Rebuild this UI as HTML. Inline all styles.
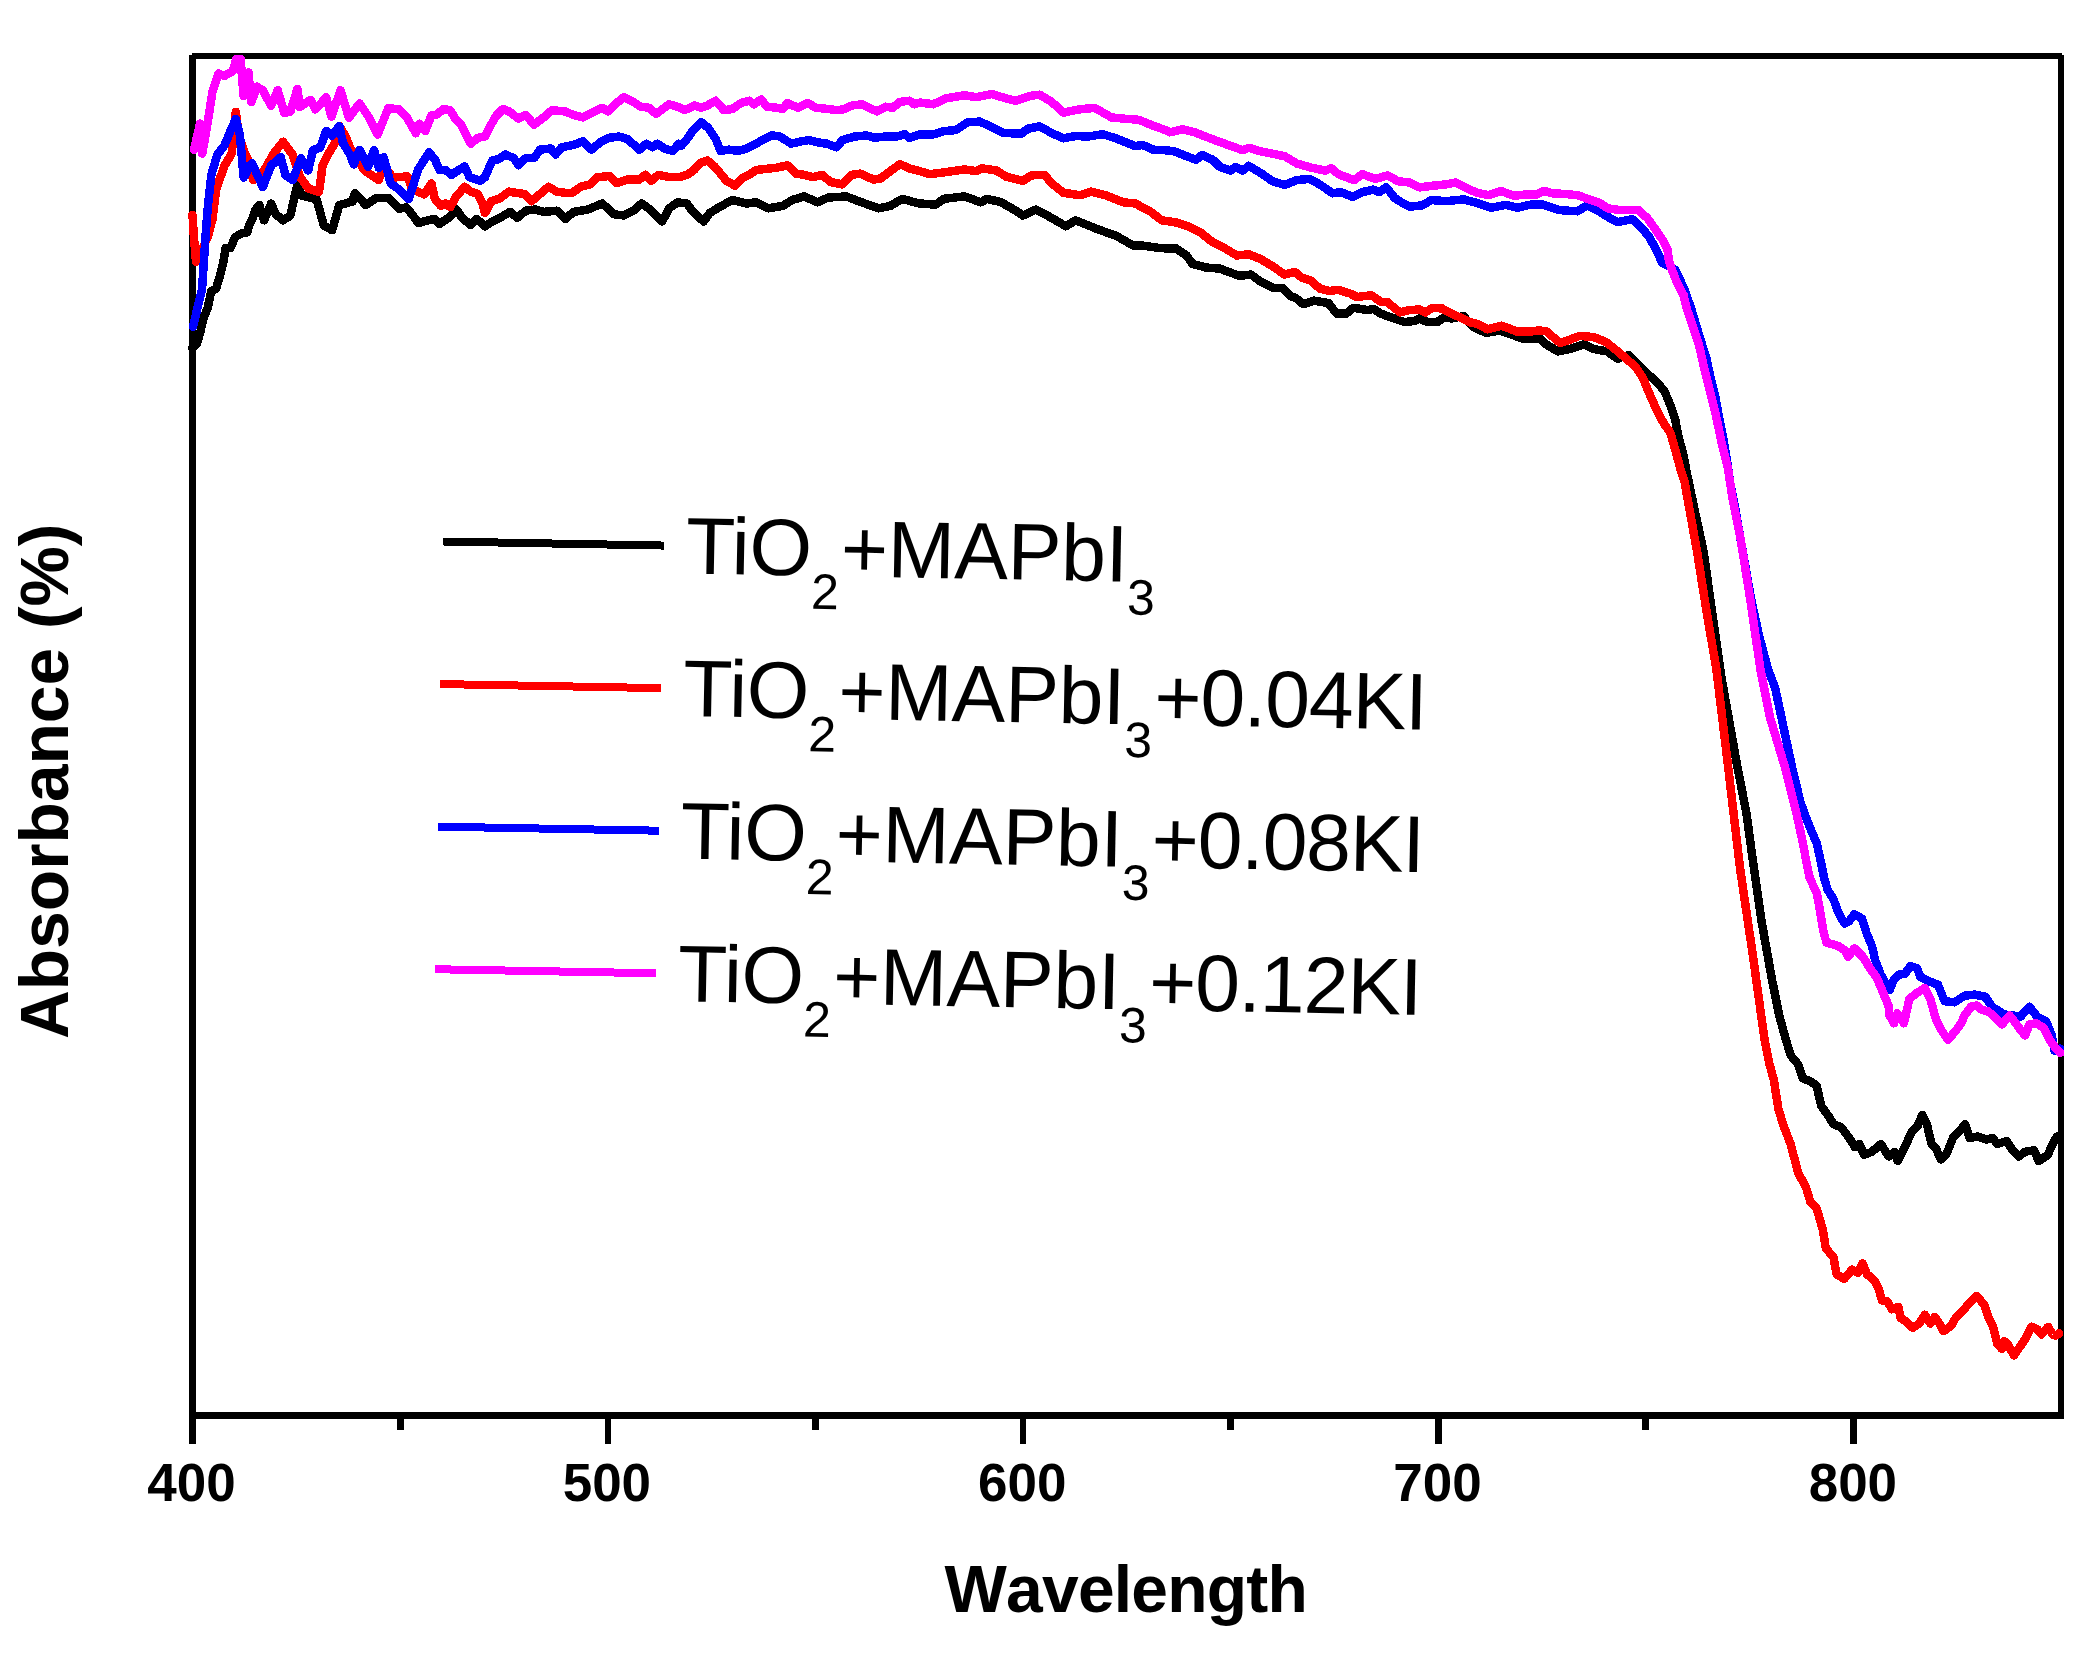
<!DOCTYPE html>
<html><head><meta charset="utf-8"><title>Absorbance spectra</title>
<style>
html,body{margin:0;padding:0;background:#fff;}
svg{display:block;}
.tick{font-family:"Liberation Sans",Arial,sans-serif;font-weight:bold;font-size:53px;text-anchor:middle;fill:#000;}
.xl{font-family:"Liberation Sans",Arial,sans-serif;font-weight:bold;font-size:66px;text-anchor:middle;font-kerning:none;letter-spacing:-0.8px;fill:#000;}
.yl{font-family:"Liberation Sans",Arial,sans-serif;font-weight:bold;font-size:67.7px;text-anchor:middle;fill:#000;}
.lg{font-family:"Liberation Sans",Arial,sans-serif;font-size:80.5px;letter-spacing:-0.3px;fill:#000;}
.sub{font-size:50px;letter-spacing:1.5px;}
.suf{letter-spacing:-1.1px;}
</style></head><body>
<svg width="2096" height="1672" viewBox="0 0 2096 1672">
<rect width="2096" height="1672" fill="#fff"/>
<g fill="#000" shape-rendering="crispEdges">
<rect x="189" y="55" width="7" height="1389"/>
<rect x="192" y="53" width="1870" height="6"/>
<rect x="2058" y="55" width="6" height="1364"/>
<rect x="189" y="1412" width="1875" height="7"/>
<rect x="605" y="1419" width="6" height="25"/>
<rect x="1020" y="1419" width="6" height="25"/>
<rect x="1435" y="1419" width="7" height="25"/>
<rect x="1850" y="1419" width="7" height="25"/>
<rect x="397" y="1419" width="7" height="11"/>
<rect x="812" y="1419" width="7" height="11"/>
<rect x="1227" y="1419" width="7" height="11"/>
<rect x="1642" y="1419" width="7" height="11"/>
</g>
<text x="191.5" y="1501" class="tick">400</text>
<text x="606.9" y="1501" class="tick">500</text>
<text x="1022.2" y="1501" class="tick">600</text>
<text x="1437.5" y="1501" class="tick">700</text>
<text x="1852.9" y="1501" class="tick">800</text>
<text x="1125.8" y="1611.5" class="xl">Wavelength</text>
<text transform="translate(68,781.4) rotate(-90)" class="yl">Absorbance (%)</text>
<path d="M192.2,348.0 L197.0,343.5 L200.5,331.6 L203.0,319.6 L207.7,307.7 L211.3,290.9 L216.1,288.5 L219.7,276.6 L223.3,262.2 L225.7,247.8 L230.5,247.8 L235.2,237.1 L241.2,233.5 L247.2,232.3 L249.6,223.9 L253.2,216.7 L255.6,209.6 L259.2,204.8 L264.0,220.3 L271.1,203.6 L275.9,214.4 L283.1,220.3 L290.3,215.6 L296.2,189.5 L298.6,182.3 L301.0,195.5 L316.6,199.1 L323.8,225.4 L332.1,230.2 L339.3,205.1 L352.5,201.5 L354.9,193.1 L359.6,197.9 L365.6,205.1 L376.4,197.9 L388.3,197.9 L399.1,208.7 L406.3,207.5 L412.3,214.6 L418.3,223.0 L431.4,219.4 L434.8,219.1 L439.6,223.9 L446.7,219.1 L451.5,215.5 L456.3,209.5 L462.3,217.9 L470.7,225.1 L476.7,219.1 L485.0,226.3 L492.2,221.5 L501.8,216.7 L510.1,211.9 L517.3,217.9 L525.7,210.7 L535.3,209.5 L543.6,211.9 L556.8,210.7 L565.2,219.1 L573.5,211.9 L587.9,209.5 L602.2,203.5 L614.2,214.3 L623.8,215.5 L633.3,210.7 L641.7,203.5 L650.1,209.5 L662.1,221.5 L669.2,208.3 L677.6,202.3 L687.0,203.5 L692.9,211.9 L703.7,221.5 L709.7,213.1 L719.3,207.1 L732.4,200.0 L746.8,203.5 L756.3,202.3 L768.3,208.3 L782.7,205.9 L792.2,200.0 L804.2,196.4 L817.3,202.3 L828.1,197.6 L846.1,196.4 L861.6,202.3 L878.3,208.3 L890.3,205.9 L902.3,198.8 L914.2,202.3 L920.0,203.5 L935.6,204.7 L943.9,198.8 L964.3,196.4 L981.0,202.3 L987.0,198.8 L1001.3,202.3 L1015.7,210.7 L1022.9,215.5 L1036.0,209.5 L1051.6,217.9 L1065.9,226.3 L1075.5,220.3 L1087.5,225.1 L1099.4,229.9 L1116.2,235.8 L1132.9,245.4 L1141.3,245.4 L1158.0,247.8 L1165.0,248.3 L1175.8,248.3 L1186.5,255.5 L1192.5,263.9 L1205.7,267.5 L1220.0,268.7 L1239.2,275.8 L1251.1,274.6 L1260.7,281.8 L1272.7,287.8 L1282.2,287.8 L1290.0,295.8 L1296.0,298.2 L1303.2,304.2 L1313.9,300.6 L1328.3,303.0 L1336.7,313.7 L1346.2,313.7 L1353.4,307.8 L1367.8,310.1 L1373.7,308.9 L1380.9,313.7 L1394.1,318.5 L1404.8,322.1 L1414.4,320.9 L1419.2,318.5 L1427.6,322.1 L1437.1,322.1 L1444.3,317.3 L1451.5,318.5 L1463.4,316.1 L1473.0,326.9 L1486.2,332.9 L1499.3,330.5 L1513.7,335.3 L1523.3,338.9 L1532.8,338.9 L1540.0,338.3 L1546.0,344.3 L1557.9,351.4 L1569.9,349.0 L1584.3,344.3 L1593.8,349.0 L1607.0,351.4 L1617.8,358.6 L1628.5,355.0 L1645.3,371.8 L1656.0,381.3 L1664.4,390.9 L1670.4,405.3 L1675.2,419.6 L1678.8,437.6 L1683.5,455.5 L1686.8,473.0 L1692.5,500.0 L1703.6,551.8 L1721.0,675.0 L1737.2,765.7 L1746.5,813.5 L1753.6,866.0 L1761.3,919.8 L1772.0,979.6 L1779.2,1015.5 L1786.0,1040.0 L1790.6,1055.3 L1798.3,1064.5 L1802.9,1078.3 L1810.5,1081.3 L1816.7,1085.9 L1821.2,1105.8 L1828.9,1116.6 L1833.5,1124.2 L1841.2,1127.3 L1850.3,1139.5 L1854.9,1147.2 L1859.5,1144.1 L1864.1,1154.8 L1871.8,1151.8 L1881.0,1144.1 L1888.6,1156.4 L1894.7,1151.8 L1897.8,1161.0 L1905.5,1145.6 L1911.6,1131.9 L1917.7,1125.7 L1922.3,1115.0 L1926.9,1124.2 L1931.5,1144.1 L1936.1,1148.7 L1940.7,1159.4 L1946.8,1153.3 L1952.9,1138.0 L1959.0,1131.9 L1965.2,1124.2 L1969.8,1138.0 L1977.4,1136.5 L1986.6,1139.5 L1992.7,1138.0 L1997.3,1144.1 L2006.5,1141.0 L2012.6,1150.2 L2018.8,1156.4 L2024.9,1151.8 L2034.1,1150.2 L2038.7,1161.0 L2047.9,1154.8 L2052.5,1144.1 L2057.0,1136.5" fill="none" stroke="#000" stroke-width="8.5" stroke-linejoin="round" stroke-linecap="round" shape-rendering="crispEdges"/>
<path d="M192.5,215.0 L194.0,238.0 L196.0,262.0 L202.0,250.0 L208.0,236.0 L212.5,219.4 L216.1,189.5 L224.5,165.6 L231.7,153.6 L235.8,111.8 L238.8,135.7 L244.8,153.6 L248.4,159.6 L253.2,180.0 L262.8,171.6 L266.3,166.8 L273.5,153.6 L283.1,141.7 L292.7,154.8 L299.8,176.4 L308.2,188.3 L319.0,191.9 L322.6,165.6 L328.5,153.6 L335.7,141.7 L339.3,126.1 L345.3,135.7 L350.1,147.7 L364.4,170.4 L378.8,180.0 L383.6,165.6 L393.1,177.6 L407.5,176.4 L412.3,189.5 L424.2,194.3 L431.4,183.5 L434.8,198.8 L440.8,205.9 L445.6,203.5 L450.3,207.1 L456.3,196.4 L464.7,186.8 L470.7,191.6 L477.8,194.0 L482.6,203.5 L485.0,213.1 L491.0,201.1 L499.4,198.8 L508.9,191.6 L516.1,192.8 L524.5,194.0 L531.7,201.1 L540.0,194.0 L548.4,186.8 L556.8,191.6 L565.2,192.8 L572.3,192.8 L580.7,186.8 L590.3,184.4 L597.5,177.2 L609.4,176.0 L616.6,183.2 L627.4,179.6 L639.3,179.6 L645.3,174.8 L651.3,180.8 L658.5,174.8 L669.2,177.2 L678.8,177.2 L687.0,174.8 L694.1,170.0 L700.1,162.9 L707.3,160.5 L714.5,166.5 L720.5,173.6 L726.4,180.8 L734.8,185.6 L742.0,178.4 L749.2,174.8 L756.3,170.0 L765.9,168.9 L776.7,167.7 L787.4,165.3 L795.8,173.6 L804.2,174.8 L812.6,177.2 L822.1,174.8 L830.5,182.0 L842.5,184.4 L852.0,174.8 L860.4,173.6 L873.6,179.6 L880.7,178.4 L890.3,171.2 L899.9,164.1 L910.6,168.9 L920.0,171.2 L929.6,174.2 L943.9,172.4 L964.3,169.4 L976.2,171.2 L982.2,168.3 L996.6,170.6 L1006.1,176.6 L1022.9,180.8 L1031.2,175.4 L1044.4,174.8 L1051.6,183.2 L1063.5,192.8 L1080.3,195.2 L1091.1,191.6 L1105.4,195.2 L1123.3,202.3 L1135.3,203.5 L1150.9,211.9 L1161.6,220.3 L1165.0,220.8 L1177.0,222.6 L1188.9,226.8 L1200.9,232.8 L1212.8,242.3 L1224.8,248.3 L1236.8,255.5 L1248.7,254.3 L1260.7,259.1 L1272.7,266.3 L1284.6,274.6 L1294.8,271.9 L1302.0,277.8 L1310.3,280.2 L1319.9,288.6 L1329.5,291.0 L1337.8,289.8 L1349.8,293.4 L1357.0,297.0 L1371.3,295.2 L1380.9,301.8 L1386.9,301.8 L1400.0,312.5 L1409.6,310.1 L1419.2,309.5 L1425.2,312.5 L1432.3,307.8 L1441.9,308.4 L1451.5,313.7 L1459.9,317.3 L1469.4,322.1 L1479.0,324.5 L1487.4,329.3 L1501.7,325.7 L1511.3,329.3 L1517.3,331.7 L1529.2,331.7 L1538.8,330.5 L1546.0,331.1 L1560.3,343.1 L1573.5,338.3 L1579.5,335.9 L1593.8,337.1 L1605.8,341.9 L1617.8,351.4 L1626.1,358.6 L1635.7,367.0 L1642.9,377.8 L1647.7,389.7 L1652.4,400.5 L1658.4,413.6 L1664.4,424.4 L1670.4,432.8 L1675.2,449.5 L1680.0,467.5 L1684.6,482.0 L1697.1,551.8 L1706.6,611.6 L1716.5,670.0 L1728.0,765.7 L1740.0,868.0 L1752.9,955.7 L1764.6,1040.0 L1769.2,1063.0 L1773.8,1079.8 L1778.4,1108.9 L1783.0,1124.2 L1790.6,1144.1 L1798.3,1173.2 L1805.9,1187.0 L1810.5,1202.3 L1816.7,1208.4 L1822.8,1229.9 L1825.8,1248.2 L1833.5,1257.4 L1836.6,1274.3 L1844.2,1278.9 L1851.9,1269.7 L1858.0,1272.7 L1862.4,1263.3 L1867.0,1274.2 L1875.0,1281.0 L1879.0,1290.0 L1881.9,1300.4 L1887.4,1301.5 L1891.8,1309.2 L1898.4,1307.0 L1900.6,1318.0 L1907.2,1322.4 L1912.7,1327.9 L1919.3,1323.5 L1924.8,1314.7 L1930.3,1323.5 L1934.7,1316.9 L1940.2,1324.6 L1943.5,1331.2 L1951.2,1325.7 L1955.6,1318.0 L1962.2,1311.4 L1968.9,1303.7 L1976.6,1296.0 L1984.3,1304.8 L1988.7,1318.0 L1993.1,1326.8 L1997.5,1344.4 L2001.9,1348.9 L2004.1,1341.1 L2008.5,1345.5 L2014.0,1355.5 L2018.4,1348.9 L2023.9,1341.1 L2028.3,1333.4 L2031.6,1326.8 L2037.1,1329.0 L2041.5,1334.5 L2048.1,1326.8 L2052.5,1334.5 L2055.8,1335.6 L2059.1,1333.4" fill="none" stroke="#ff0000" stroke-width="8.5" stroke-linejoin="round" stroke-linecap="round" shape-rendering="crispEdges"/>
<path d="M193.0,327.0 L197.0,310.0 L202.0,290.0 L204.0,260.0 L206.0,230.0 L208.0,205.0 L211.3,175.0 L217.3,154.8 L224.5,145.3 L230.5,130.9 L235.8,119.0 L240.0,135.7 L243.6,177.6 L252.0,163.2 L262.8,187.1 L271.1,165.6 L280.7,157.2 L285.5,175.2 L292.7,180.0 L301.0,158.4 L308.2,170.4 L313.0,150.0 L320.2,147.7 L326.1,130.9 L332.1,135.7 L339.3,126.1 L342.9,142.9 L350.1,154.8 L353.7,164.4 L359.6,150.0 L368.0,166.8 L374.0,150.0 L378.8,167.9 L383.6,157.2 L390.7,183.5 L399.1,189.5 L408.7,199.1 L418.3,169.2 L429.0,152.4 L434.8,159.3 L439.6,170.0 L445.6,170.0 L451.5,174.8 L458.7,170.0 L464.7,166.5 L469.5,177.2 L480.2,180.8 L485.0,177.2 L492.2,160.5 L498.2,159.3 L505.4,154.5 L513.7,158.1 L518.5,165.3 L525.7,158.1 L534.1,158.1 L540.0,149.7 L550.8,148.5 L555.6,154.5 L561.6,147.3 L573.5,144.9 L583.1,141.3 L591.5,149.7 L599.9,142.5 L609.4,137.8 L619.0,136.6 L627.4,138.9 L639.3,149.7 L646.5,143.7 L652.5,147.3 L657.3,143.7 L664.4,148.5 L672.8,150.9 L678.8,143.7 L681.0,146.1 L687.0,139.0 L692.9,130.6 L701.3,122.2 L708.5,128.2 L715.7,139.0 L720.5,150.9 L728.8,149.7 L738.4,150.9 L746.8,148.5 L754.0,144.9 L762.3,140.1 L771.9,135.4 L780.3,136.6 L791.0,143.7 L801.8,141.3 L809.0,140.1 L818.5,142.5 L826.9,143.7 L836.5,147.3 L842.5,140.1 L854.4,136.6 L866.4,135.4 L874.8,137.8 L884.3,136.6 L896.3,136.6 L904.7,134.2 L909.4,137.8 L920.0,134.2 L932.0,134.8 L943.9,131.2 L955.9,130.0 L967.8,122.2 L979.8,121.6 L991.8,127.0 L1003.7,133.0 L1021.7,133.6 L1027.7,128.8 L1039.6,126.4 L1051.6,133.0 L1063.5,138.3 L1075.5,136.0 L1087.5,136.6 L1103.0,134.2 L1117.4,138.9 L1135.3,146.1 L1142.5,144.9 L1153.3,149.7 L1165.0,150.2 L1174.6,151.4 L1186.5,156.2 L1196.1,159.8 L1202.1,155.0 L1212.8,159.8 L1220.0,167.0 L1230.8,170.6 L1235.6,167.0 L1242.8,170.6 L1248.7,165.8 L1260.7,173.0 L1272.7,181.3 L1284.6,184.9 L1296.6,180.1 L1309.7,178.9 L1320.5,184.9 L1332.5,193.3 L1340.8,192.1 L1352.8,196.9 L1362.4,192.1 L1373.1,189.7 L1379.1,192.1 L1386.3,187.3 L1394.7,198.0 L1404.2,204.1 L1410.0,206.6 L1422.0,205.4 L1431.5,200.0 L1445.9,201.2 L1463.8,199.4 L1477.0,203.0 L1491.3,207.8 L1505.7,204.8 L1517.7,207.8 L1529.6,204.8 L1541.6,204.2 L1559.5,210.1 L1577.5,211.3 L1587.0,205.4 L1599.0,211.3 L1607.7,216.8 L1617.6,222.1 L1632.2,219.1 L1641.3,227.5 L1649.0,236.7 L1656.7,250.4 L1662.0,262.7 L1675.1,269.6 L1684.2,288.7 L1690.9,307.8 L1696.6,327.0 L1700.6,340.0 L1706.6,359.1 L1710.6,378.3 L1715.4,397.4 L1719.2,418.0 L1723.5,439.1 L1726.6,458.3 L1728.8,472.6 L1730.5,485.0 L1734.4,503.9 L1751.2,599.6 L1759.0,635.5 L1768.3,670.0 L1775.2,688.0 L1781.5,717.8 L1791.7,765.7 L1800.3,801.6 L1804.5,813.5 L1811.6,831.5 L1816.8,843.4 L1821.5,865.0 L1824.1,877.9 L1827.7,889.9 L1833.6,899.5 L1838.4,912.6 L1844.4,923.4 L1849.2,921.0 L1854.4,914.3 L1862.1,918.7 L1866.5,933.0 L1872.0,946.2 L1875.3,960.5 L1880.8,974.8 L1889.6,990.2 L1894.0,979.2 L1898.4,974.8 L1905.0,973.7 L1910.5,966.0 L1917.1,968.2 L1920.4,977.0 L1929.2,981.4 L1938.0,984.7 L1944.6,1001.2 L1954.5,1002.3 L1964.5,995.7 L1974.4,994.6 L1985.4,996.8 L1992.0,1006.7 L2004.1,1014.4 L2020.6,1016.6 L2029.4,1006.7 L2037.1,1016.6 L2045.9,1021.0 L2051.4,1034.3 L2054.7,1050.8 L2060.2,1048.6" fill="none" stroke="#0000ff" stroke-width="8.5" stroke-linejoin="round" stroke-linecap="round" shape-rendering="crispEdges"/>
<path d="M194.0,150.0 L200.0,123.7 L202.3,153.6 L207.7,122.5 L212.5,91.4 L218.5,73.5 L224.5,75.9 L232.8,71.1 L236.4,59.0 L240.6,59.1 L243.6,96.2 L248.4,72.3 L251.4,102.2 L256.8,86.7 L262.8,90.2 L271.1,105.8 L277.7,90.2 L284.3,113.0 L290.3,111.8 L297.4,89.0 L299.8,107.0 L310.6,99.8 L315.4,109.4 L326.1,97.4 L331.5,116.6 L340.5,90.2 L348.9,117.8 L359.6,103.4 L369.2,117.8 L377.6,134.5 L388.3,108.2 L399.1,109.4 L406.3,116.6 L415.9,133.3 L419.4,123.7 L425.4,130.9 L431.4,115.4 L436.0,115.0 L443.8,109.0 L450.3,110.2 L455.1,118.6 L461.1,124.6 L465.9,134.2 L470.7,143.7 L477.8,137.8 L485.0,136.6 L489.8,127.0 L495.8,116.2 L503.0,109.0 L509.0,111.4 L518.5,118.6 L525.7,115.0 L534.1,124.6 L543.6,117.4 L552.0,110.2 L565.2,111.4 L573.5,115.0 L583.1,117.4 L595.1,111.4 L602.2,107.8 L608.2,111.4 L616.6,103.1 L623.8,97.1 L633.3,101.9 L640.5,106.7 L648.9,107.8 L656.1,113.8 L669.2,104.3 L677.6,106.7 L684.6,110.2 L694.1,105.5 L701.3,107.8 L707.3,105.5 L715.7,100.7 L724.0,110.2 L732.4,109.0 L740.8,103.1 L749.2,100.7 L754.0,104.3 L761.1,99.5 L767.1,106.7 L776.7,107.8 L782.7,109.0 L787.4,103.1 L798.2,107.8 L807.8,103.1 L816.1,107.8 L828.1,109.0 L837.7,110.2 L844.9,109.0 L852.0,105.5 L861.6,104.3 L868.8,107.8 L877.2,111.4 L885.5,106.7 L892.7,107.8 L899.9,101.9 L909.4,100.7 L914.2,104.3 L920.0,102.5 L933.2,104.3 L946.3,98.3 L964.3,95.3 L976.2,97.1 L991.8,94.1 L1003.7,97.7 L1015.7,100.7 L1030.0,95.9 L1039.6,94.7 L1051.6,101.9 L1063.5,112.6 L1077.9,109.6 L1094.6,107.8 L1111.4,117.4 L1123.3,118.6 L1138.9,119.8 L1153.3,125.8 L1165.0,129.9 L1169.8,132.3 L1182.9,129.3 L1194.9,132.3 L1206.9,137.1 L1216.4,140.7 L1229.6,145.5 L1242.8,150.2 L1248.7,147.8 L1260.7,151.4 L1272.7,153.8 L1284.6,156.2 L1296.6,163.4 L1310.9,167.6 L1325.3,170.6 L1331.3,168.2 L1338.4,174.2 L1354.0,180.1 L1362.4,174.2 L1375.5,178.9 L1387.5,175.4 L1398.3,181.3 L1410.0,182.6 L1419.6,187.4 L1433.9,185.6 L1445.9,184.4 L1455.5,182.6 L1465.0,187.4 L1477.0,192.8 L1488.9,195.2 L1500.9,191.0 L1514.1,195.8 L1524.8,194.6 L1536.8,194.6 L1544.0,191.0 L1553.5,193.4 L1565.5,194.0 L1577.5,195.2 L1589.4,199.4 L1600.0,203.0 L1607.7,208.3 L1619.1,209.9 L1638.3,209.9 L1647.5,218.3 L1655.1,229.0 L1663.6,241.3 L1667.4,248.9 L1668.9,260.4 L1672.7,271.9 L1677.3,283.4 L1683.5,294.9 L1686.5,308.0 L1691.9,323.9 L1699.1,345.5 L1703.9,367.0 L1709.9,390.9 L1715.8,414.8 L1721.8,443.5 L1727.8,467.5 L1732.8,500.0 L1740.7,539.8 L1750.3,599.6 L1760.5,670.0 L1770.1,717.8 L1784.5,765.7 L1796.5,813.5 L1803.0,843.4 L1806.0,860.0 L1809.7,877.9 L1816.9,893.5 L1820.5,913.8 L1823.5,931.8 L1826.5,942.5 L1838.4,946.1 L1845.6,950.9 L1848.0,956.9 L1854.4,948.4 L1863.2,957.2 L1869.8,968.2 L1876.4,977.0 L1883.0,992.4 L1888.5,1005.6 L1889.6,1015.5 L1894.0,1023.3 L1897.3,1013.3 L1903.9,1023.3 L1909.4,999.0 L1916.0,993.5 L1924.8,988.0 L1930.3,999.0 L1935.8,1018.8 L1941.3,1029.9 L1947.9,1039.8 L1955.6,1031.0 L1961.1,1023.3 L1964.5,1015.5 L1971.1,1006.7 L1976.6,1005.6 L1982.1,1010.0 L1987.6,1011.1 L1993.1,1015.5 L2001.9,1024.4 L2009.6,1015.5 L2014.0,1021.0 L2020.6,1029.9 L2025.0,1035.4 L2029.4,1024.4 L2036.0,1023.3 L2043.7,1027.7 L2050.3,1040.9 L2056.9,1049.7 L2060.2,1053.0" fill="none" stroke="#ff00ff" stroke-width="8.5" stroke-linejoin="round" stroke-linecap="round" shape-rendering="crispEdges"/>
<g transform="rotate(1.05 443 541.5)"><line x1="443" y1="541.5" x2="664" y2="541.5" stroke="#000" stroke-width="8" shape-rendering="crispEdges"/><text x="686" y="569.0" class="lg">TiO<tspan class="sub" dy="33">2</tspan><tspan dy="-33">+MAPbI</tspan><tspan class="sub" dy="33">3</tspan></text><line x1="443" y1="684.1" x2="664" y2="684.1" stroke="#ff0000" stroke-width="8" shape-rendering="crispEdges"/><text x="686" y="711.6" class="lg">TiO<tspan class="sub" dy="33">2</tspan><tspan dy="-33">+MAPbI</tspan><tspan class="sub" dy="33">3</tspan><tspan dy="-33" class="suf">+0.04KI</tspan></text><line x1="443" y1="826.7" x2="664" y2="826.7" stroke="#0000ff" stroke-width="8" shape-rendering="crispEdges"/><text x="686" y="854.2" class="lg">TiO<tspan class="sub" dy="33">2</tspan><tspan dy="-33">+MAPbI</tspan><tspan class="sub" dy="33">3</tspan><tspan dy="-33" class="suf">+0.08KI</tspan></text><line x1="443" y1="969.3" x2="664" y2="969.3" stroke="#ff00ff" stroke-width="8" shape-rendering="crispEdges"/><text x="686" y="996.8" class="lg">TiO<tspan class="sub" dy="33">2</tspan><tspan dy="-33">+MAPbI</tspan><tspan class="sub" dy="33">3</tspan><tspan dy="-33" class="suf">+0.12KI</tspan></text></g>
</svg>
</body></html>
